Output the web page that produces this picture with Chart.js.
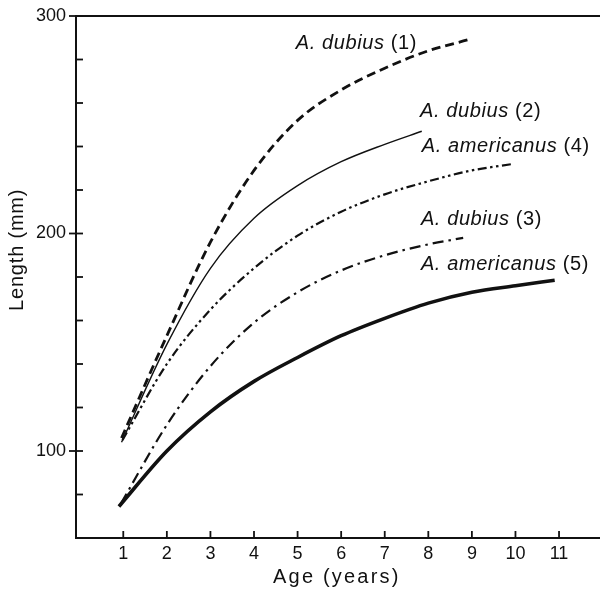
<!DOCTYPE html>
<html>
<head>
<meta charset="utf-8">
<script src="https://cdn.jsdelivr.net/npm/chart.js@4/dist/chart.umd.min.js"></script>
<style>
  html, body { margin: 0; padding: 0; background: #fff; }
  canvas { display: block; }
</style>
</head>
<body>
<canvas id="chart" width="600" height="589"></canvas>
<script>
// growth curves, age in years / length in mm
let ages1 = [0.96, 2, 3, 4, 5, 6, 7, 8, 8.9];
let lens1 = [106, 153, 196, 229, 252, 266, 276, 284, 289];

let ages2 = [0.96, 2, 3, 4, 5, 6, 7, 7.85];
let lens2 = [104, 149, 184, 207, 222, 233, 241, 247];

let ages3 = [0.95, 2, 3, 4, 5, 6, 7, 8, 8.8];
let lens3 = [76, 112, 139, 159, 173, 183, 190, 195, 198];

let ages4 = [0.98, 2, 3, 4, 5, 6, 7, 8, 9, 9.95];
let lens4 = [105, 140, 165, 184, 199, 210, 218, 224, 229, 232];

let ages5 = [0.9, 2, 3, 4, 5, 6, 7, 8, 9, 10, 10.9];
let lens5 = [74.5, 100, 118, 132, 143, 153, 161, 168, 173, 176, 178.5];

let ageTicks = [1, 2, 3, 4, 5, 6, 7, 8, 9, 10, 11];
let lengthTicks = [60, 80, 100, 120, 140, 160, 180, 200, 220, 240, 260, 280, 300];
let lengthLabels = [100, 200, 300];

let curveNames = ["A. dubius", "A. dubius", "A. dubius", "A. americanus", "A. americanus"];
let curveNums = ["(1)", "(2)", "(3)", "(4)", "(5)"];
// label anchors (age, length) for the text next to each curve
let labelAge = [4.96, 7.81, 7.83, 7.85, 7.83];
let labelLen = [284.8, 253.6, 203.9, 237.5, 183.2];

let ink = "#111";
let sans = "'Liberation Sans', Arial, Helvetica, sans-serif";

function pts(xs, ys){
  let arr = [];
  for(let i = 0; i < xs.length; i++){
    arr.push({x: xs[i], y: ys[i]});
  }
  return arr;
}

function curve(xs, ys, width, dash){
  return {
    data: pts(xs, ys),
    borderColor: ink,
    borderWidth: width,
    borderDash: dash,
    pointRadius: 0,
    fill: false,
    cubicInterpolationMode: "monotone"
  };
}

let extras = {
  id: "extras",
  afterDraw: function(chart){
    let ctx = chart.ctx;
    let area = chart.chartArea;
    let xs = chart.scales.x;
    let ys = chart.scales.y;

    ctx.save();
    ctx.strokeStyle = ink;
    ctx.lineWidth = 2;

    // top frame line
    ctx.beginPath();
    ctx.moveTo(area.left - 1, area.top);
    ctx.lineTo(area.right, area.top);
    ctx.stroke();

    // inward tick marks (labelled ones on y also poke out)
    ctx.lineWidth = 1.8;
    ageTicks.forEach(function(v){
      let px = xs.getPixelForValue(v);
      ctx.beginPath();
      ctx.moveTo(px, area.bottom);
      ctx.lineTo(px, area.bottom - 7);
      ctx.stroke();
    });
    lengthTicks.forEach(function(v){
      let py = ys.getPixelForValue(v);
      let out = lengthLabels.indexOf(v) >= 0 ? 7 : 0;
      ctx.beginPath();
      ctx.moveTo(area.left - out, py);
      ctx.lineTo(area.left + 7, py);
      ctx.stroke();
    });

    // curve labels
    ctx.fillStyle = ink;
    ctx.textBaseline = "alphabetic";
    ctx.textAlign = "left";
    ctx.letterSpacing = "0.6px";
    for(let i = 0; i < curveNames.length; i++){
      let px = xs.getPixelForValue(labelAge[i]);
      let py = ys.getPixelForValue(labelLen[i]);
      ctx.font = "italic 20px " + sans;
      ctx.fillText(curveNames[i], px, py);
      let w = ctx.measureText(curveNames[i] + " ").width;
      ctx.font = "20px " + sans;
      ctx.fillText(curveNums[i], px + w, py);
    }

    // axis titles
    ctx.font = "20px " + sans;
    ctx.letterSpacing = "2.2px";
    ctx.textAlign = "center";
    ctx.fillText("Age (years)", xs.getPixelForValue(5.9), area.bottom + 45);

    ctx.letterSpacing = "0.8px";
    ctx.translate(area.left - 53, ys.getPixelForValue(192.5));
    ctx.rotate(-Math.PI / 2);
    ctx.fillText("Length (mm)", 0, 0);
    ctx.restore();
  }
};

function initChart(){
  new Chart(document.getElementById("chart"), {
    type: "line",
    data: {
      datasets: [
        curve(ages1, lens1, 2.8, [9, 5]),
        curve(ages2, lens2, 1.4, []),
        curve(ages3, lens3, 2.2, [11, 5, 2.5, 5]),
        curve(ages4, lens4, 2.2, [9, 3.5, 2.5, 3.5, 2.5, 3.5]),
        curve(ages5, lens5, 3.6, [])
      ]
    },
    options: {
      responsive: false,
      animation: false,
      devicePixelRatio: 1,
      layout: { padding: { top: 16, right: 0, left: 0, bottom: 0 } },
      plugins: { legend: { display: false }, tooltip: { enabled: false } },
      scales: {
        x: {
          type: "linear",
          min: -0.085,
          max: 11.94,
          afterBuildTicks: function(s){
            s.ticks = ageTicks.map(function(v){ return {value: v}; });
          },
          afterFit: function(s){
            s.height = 51;
            s.paddingLeft = 0; s.paddingRight = 0;
          },
          grid: { display: false, drawTicks: false },
          border: { display: true, color: ink, width: 2 },
          ticks: {
            color: ink,
            font: { family: sans, size: 18 },
            padding: 5,
            maxRotation: 0,
            autoSkip: false
          }
        },
        y: {
          type: "linear",
          min: 60,
          max: 300,
          afterBuildTicks: function(s){
            s.ticks = lengthTicks.map(function(v){ return {value: v}; });
          },
          afterFit: function(s){
            s.width = 76;
            s.paddingTop = 0; s.paddingBottom = 0;
          },
          grid: { display: false, drawTicks: false },
          border: { display: true, color: ink, width: 2 },
          ticks: {
            color: ink,
            font: { family: sans, size: 18 },
            padding: 10,
            autoSkip: false,
            callback: function(v){
              return lengthLabels.indexOf(v) >= 0 ? String(v) : "";
            }
          }
        }
      }
    },
    plugins: [extras]
  });
}

document.addEventListener("DOMContentLoaded", function(){
  initChart();
});
</script>
</body>
</html>
